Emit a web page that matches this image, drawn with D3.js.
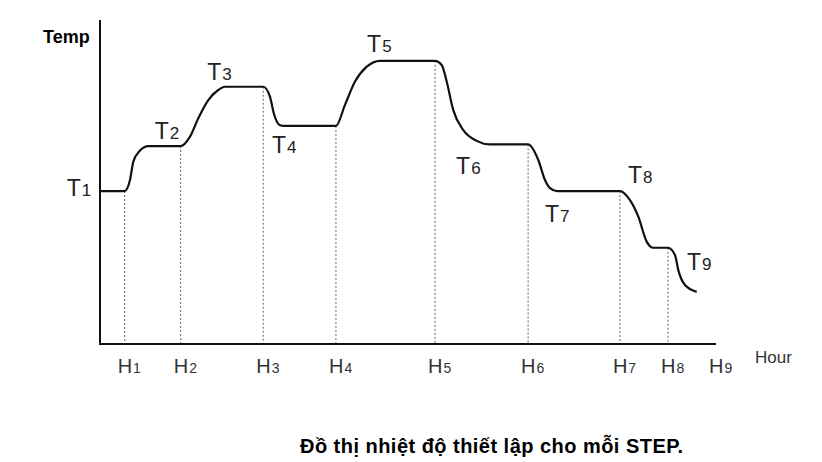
<!DOCTYPE html>
<html>
<head>
<meta charset="utf-8">
<script src="https://cdn.jsdelivr.net/npm/d3@7"></script>
<style>
  html, body { margin: 0; padding: 0; background: #fff; }
  svg { display: block; }
</style>
</head>
<body>
<svg id="chart" width="822" height="462"></svg>
<script>
// ---- data ----
const hourLabels = ["H1","H2","H3","H4","H5","H6","H7","H8","H9"];
const hourTicks  = [4, 13.1, 26.5, 38.3, 54.4, 69.5, 84.4, 92.2, 100];
const stepLabels = ["T1","T2","T3","T4","T5","T6","T7","T8","T9"];
const stepTemps  = [47.2, 61.1, 79.4, 67.3, 87.4, 61.6, 47.2, 29.7, 16.1];
// temperature profile (hour, temp)
const curveHours = [0, 4, 4.87, 5.41, 6.49, 7.84, 13.1, 14.61, 15.96, 17.58, 19.2, 20.29, 26.5,
  27.6, 28.2, 29.1, 29.9, 38.3, 39.77, 41.4, 43.3, 45.45, 54.4, 55.47, 56.28, 57.35, 58.98, 61.15, 63.3,
  69.5, 71.15, 72.24, 73.05, 74.2, 84.4, 86.04, 87.39, 88.75, 89.8, 92.2, 93.34, 93.88, 94.97, 96.87];
const curveTemps = [47.2, 47.2, 50.6, 56.3, 59.7, 61.1, 61.1, 64.0, 69.7, 75.3, 78.4, 79.4, 79.4,
  76.3, 71.3, 67.7, 67.3, 67.3, 73.8, 81.0, 85.6, 87.4, 87.4, 86.1, 81.0, 72.2, 66.0, 62.7, 61.6,
  61.6, 56.8, 50.6, 48.1, 47.2, 47.2, 44.4, 39.3, 31.6, 29.7, 29.7, 27.5, 22.8, 18.2, 16.1];
const yTitle = "Temp";
const xTitle = "Hour";
const caption = "Đồ thị nhiệt độ thiết lập cho mỗi STEP.";

// ---- layout (pixel offsets for step labels, relative to end of each plateau) ----
const labelOffsets = [[-58,5],[-26,-7],[-56,-7],[-64,27],[-68,-9],[-72,30],[-75,31],[-40,-65],[-29,-22]];

const svg = d3.select("#chart");
const x = d3.scaleLinear().domain([0, 100]).range([100, 716]);
const y = d3.scaleLinear().domain([0, 100]).range([344, 20]);

const ink = "#111";

// dotted guides
svg.append("g").selectAll("line")
  .data(hourTicks.slice(0, 8))
  .join("line")
  .attr("x1", d => x(d)).attr("x2", d => x(d))
  .attr("y1", (d, i) => y(stepTemps[i])).attr("y2", y(0))
  .attr("stroke", "#666").attr("stroke-width", 1)
  .attr("stroke-dasharray", "2,2");

// axes
svg.append("line")
  .attr("x1", x(0)).attr("x2", x(0)).attr("y1", y(100)).attr("y2", y(0) + 1)
  .attr("stroke", ink).attr("stroke-width", 2);
svg.append("line")
  .attr("x1", x(0) - 1).attr("x2", x(100)).attr("y1", y(0)).attr("y2", y(0))
  .attr("stroke", ink).attr("stroke-width", 2);

// curve
const pts = curveHours.map((h, i) => [h, curveTemps[i]]);
const line = d3.line().x(d => x(d[0])).y(d => y(d[1])).curve(d3.curveMonotoneX);
svg.append("path")
  .attr("d", line(pts))
  .attr("fill", "none").attr("stroke", ink).attr("stroke-width", 2.2)
  .attr("stroke-linejoin", "round");

const font = "'Liberation Sans', Arial, sans-serif";

// hour labels
const hl = svg.append("g").selectAll("text")
  .data(hourLabels)
  .join("text")
  .attr("x", (d, i) => x(hourTicks[i]) - 7)
  .attr("y", 373)
  .attr("font-family", font).attr("fill", "#333");
hl.append("tspan").attr("font-size", 20).text(d => d[0]);
hl.append("tspan").attr("font-size", 14).attr("dx", 1).text(d => d.slice(1));

// step labels
const tl = svg.append("g").selectAll("text")
  .data(stepLabels)
  .join("text")
  .attr("x", (d, i) => x(hourTicks[i]) + labelOffsets[i][0])
  .attr("y", (d, i) => y(i === 8 ? curveTemps[curveTemps.length - 1] : stepTemps[i]) + labelOffsets[i][1])
  .attr("font-family", font).attr("fill", "#222");
tl.append("tspan").attr("font-size", 23).text(d => d[0]);
tl.append("tspan").attr("font-size", 17).attr("dx", 1).text(d => d.slice(1));

// titles
svg.append("text").attr("x", 43).attr("y", 43)
  .attr("font-family", font).attr("font-weight", "bold").attr("font-size", 18)
  .attr("fill", "#000").text(yTitle);
svg.append("text").attr("x", 755).attr("y", 363)
  .attr("font-family", font).attr("font-size", 17)
  .attr("fill", "#333").text(xTitle);

svg.append("text").attr("x", 300).attr("y", 453)
  .attr("font-family", font).attr("font-weight", "bold").attr("font-size", 20)
  .attr("textLength", 383).attr("lengthAdjust", "spacing")
  .attr("fill", "#000").text(caption);
</script>
</body>
</html>
